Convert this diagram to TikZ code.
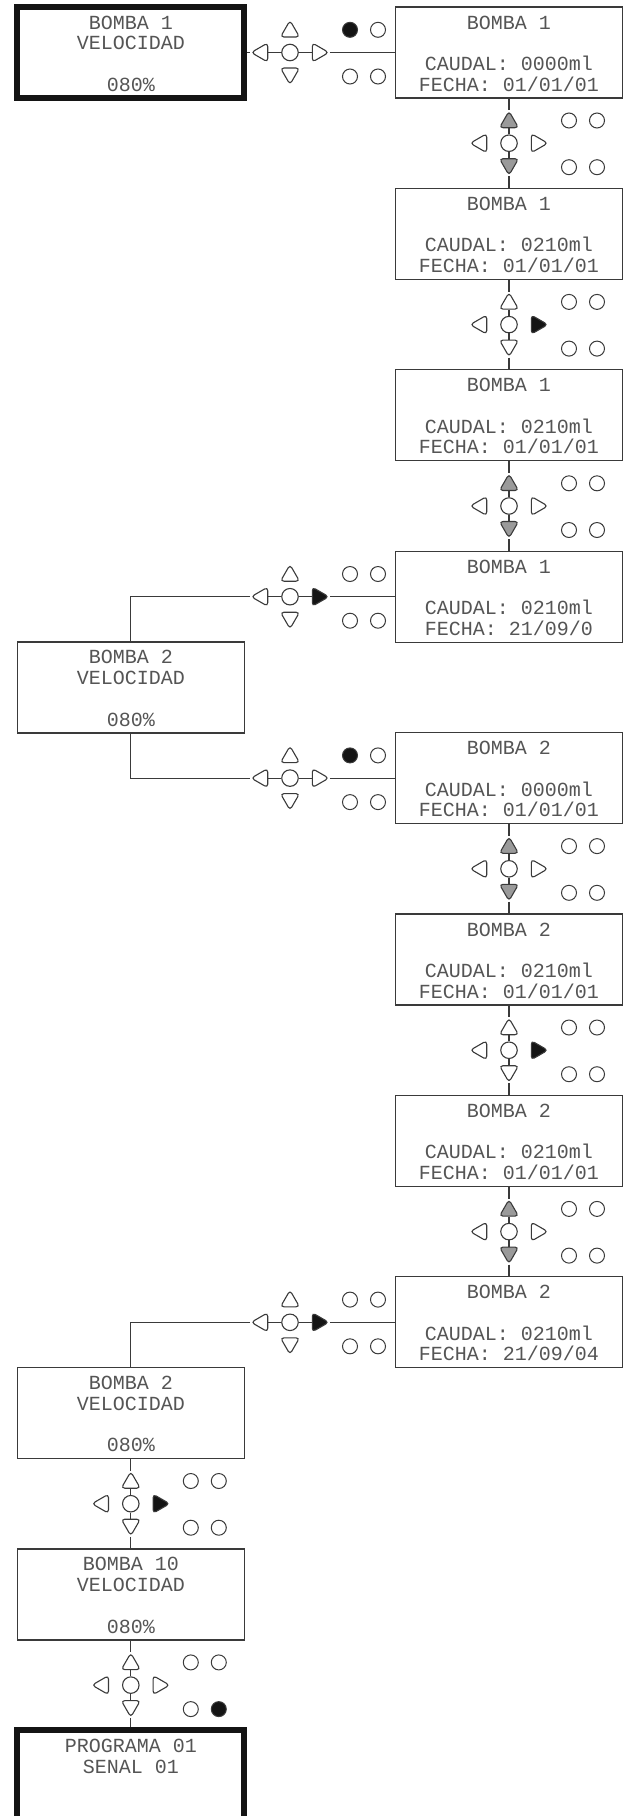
\documentclass[tikz,border=0pt]{standalone}
\usepackage{fontspec}
\usepackage{tikz}
\usetikzlibrary{shapes.geometric}
\newfontfamily\lcdfamily{Liberation Mono}
\definecolor{lineGrey}{HTML}{3A3A3A}
\definecolor{textGrey}{HTML}{555555}
\definecolor{keyGrey}{HTML}{9A9A9A}
\definecolor{keyBlack}{HTML}{141414}
\newcommand{\lcdfont}{\lcdfamily\fontsize{20}{20.7}\selectfont}
\newcommand{\lcdstrut}{\rule[-0.9pt]{0pt}{16.9pt}}
\newcommand{\lcd}[4]{\lcdstrut#1\\\lcdstrut#2\\\lcdstrut#3\\\lcdstrut#4}
\tikzset{
  lcdbox/.style={rectangle, draw=lineGrey, line width=1.2pt, fill=white, minimum width=227pt, minimum height=91pt, inner sep=0pt, align=center, font=\lcdfont, text=textGrey},
  lcdthick/.style={lcdbox, draw=keyBlack, line width=6pt},
  keytri/.style={regular polygon, regular polygon sides=3, minimum size=22pt, inner sep=0pt, draw=lineGrey, line width=1.1pt, rounded corners=3.5pt, fill=#1},
  keyhub/.style={circle, minimum size=16.5pt, inner sep=0pt, draw=lineGrey, line width=1.1pt, fill=white},
  keydot/.style={circle, minimum size=15pt, inner sep=0pt, draw=lineGrey, line width=1pt, fill=#1},
  link/.style={draw=lineGrey, line width=1.2pt},
}
% keypad: name, x, y, up/down fill, right fill, upper-left dot, lower-right dot
\newcommand{\keypad}[7]{%
  \node[keyhub] (#1c) at (#2,#3) {};
  \node[keytri=#4, shape border rotate=0] (#1u) at (#2,#3-21) {};
  \node[keytri=#4, shape border rotate=180] (#1d) at (#2,#3+21) {};
  \node[keytri=white, shape border rotate=90] (#1l) at (#2-27.8,#3) {};
  \node[keytri=#5, shape border rotate=270] (#1r) at (#2+27.8,#3) {};
  \node[keydot=#6] (#1nw) at (#2+60,#3-22.7) {};
  \node[keydot=white] (#1ne) at (#2+88,#3-22.7) {};
  \node[keydot=white] (#1sw) at (#2+60,#3+24) {};
  \node[keydot=#7] (#1se) at (#2+88,#3+24) {};
}
\begin{document}
\begin{tikzpicture}[x=1pt,y=-1pt]
  \path[use as bounding box, fill=white] (0,0) rectangle (630,1816);
  % display screens
  \node[lcdthick] (vel1) at (130.8,52.5) {\lcd{BOMBA 1}{VELOCIDAD}{}{080\%}};
  \node[lcdbox] (cau1a) at (509,52.5) {\lcd{BOMBA 1}{}{CAUDAL: 0000ml}{FECHA: 01/01/01}};
  \node[lcdbox] (cau1b) at (509,233.9) {\lcd{BOMBA 1}{}{CAUDAL: 0210ml}{FECHA: 01/01/01}};
  \node[lcdbox] (cau1c) at (509,415.3) {\lcd{BOMBA 1}{}{CAUDAL: 0210ml}{FECHA: 01/01/01}};
  \node[lcdbox] (cau1d) at (509,596.7) {\lcd{BOMBA 1}{}{CAUDAL: 0210ml}{FECHA: 21/09/0}};
  \node[lcdbox] (vel2) at (130.8,687.4) {\lcd{BOMBA 2}{VELOCIDAD}{}{080\%}};
  \node[lcdbox] (cau2a) at (509,778.1) {\lcd{BOMBA 2}{}{CAUDAL: 0000ml}{FECHA: 01/01/01}};
  \node[lcdbox] (cau2b) at (509,959.5) {\lcd{BOMBA 2}{}{CAUDAL: 0210ml}{FECHA: 01/01/01}};
  \node[lcdbox] (cau2c) at (509,1140.9) {\lcd{BOMBA 2}{}{CAUDAL: 0210ml}{FECHA: 01/01/01}};
  \node[lcdbox] (cau2d) at (509,1322.3) {\lcd{BOMBA 2}{}{CAUDAL: 0210ml}{FECHA: 21/09/04}};
  \node[lcdbox] (vel2b) at (130.8,1413.0) {\lcd{BOMBA 2}{VELOCIDAD}{}{080\%}};
  \node[lcdbox] (vel10) at (130.8,1594.4) {\lcd{BOMBA 10}{VELOCIDAD}{}{080\%}};
  \node[lcdthick] (prog) at (130.8,1775.8) {\lcd{PROGRAMA 01}{SENAL 01}{}{}};
  % keypads
  \keypad{kp1}{290}{52.5}{white}{white}{keyBlack}{white}
  \keypad{kp2}{509}{143.2}{keyGrey}{white}{white}{white}
  \keypad{kp3}{509}{324.6}{white}{keyBlack}{white}{white}
  \keypad{kp4}{509}{506.0}{keyGrey}{white}{white}{white}
  \keypad{kp5}{290}{596.7}{white}{keyBlack}{white}{white}
  \keypad{kp6}{290}{778.1}{white}{white}{keyBlack}{white}
  \keypad{kp7}{509}{868.8}{keyGrey}{white}{white}{white}
  \keypad{kp8}{509}{1050.2}{white}{keyBlack}{white}{white}
  \keypad{kp9}{509}{1231.6}{keyGrey}{white}{white}{white}
  \keypad{kp10}{290}{1322.3}{white}{keyBlack}{white}{white}
  \keypad{kp11}{130.8}{1503.7}{white}{keyBlack}{white}{white}
  \keypad{kp12}{130.8}{1685.1}{white}{white}{white}{keyBlack}
  % links
  \draw[link] (vel1) -- (kp1l) -- (kp1c) -- (kp1r) -- (cau1a);
  \draw[link] (cau1a) -- (kp2u) -- (kp2c) -- (kp2d) -- (cau1b);
  \draw[link] (cau1b) -- (kp3u) -- (kp3c) -- (kp3d) -- (cau1c);
  \draw[link] (cau1c) -- (kp4u) -- (kp4c) -- (kp4d) -- (cau1d);
  \draw[link] (cau1d) -- (kp5r) -- (kp5c) -- (kp5l) -| (vel2);
  \draw[link] (vel2) |- (kp6l) -- (kp6c) -- (kp6r) -- (cau2a);
  \draw[link] (cau2a) -- (kp7u) -- (kp7c) -- (kp7d) -- (cau2b);
  \draw[link] (cau2b) -- (kp8u) -- (kp8c) -- (kp8d) -- (cau2c);
  \draw[link] (cau2c) -- (kp9u) -- (kp9c) -- (kp9d) -- (cau2d);
  \draw[link] (cau2d) -- (kp10r) -- (kp10c) -- (kp10l) -| (vel2b);
  \draw[link] (vel2b) -- (kp11u) -- (kp11c) -- (kp11d) -- (vel10);
  \draw[link] (vel10) -- (kp12u) -- (kp12c) -- (kp12d) -- (prog);
\end{tikzpicture}
\end{document}
